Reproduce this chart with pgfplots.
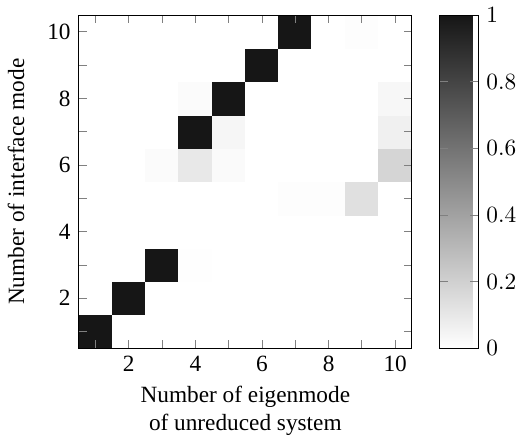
\documentclass[border=0pt]{standalone}
\usepackage[no-math]{fontspec}
\setmainfont{Liberation Serif}
\usepackage{pgfplots}
\usepackage{pgfplotstable}
\pgfplotsset{compat=1.18}

% MAC-style correlation between interface modes and eigenmodes
\pgfplotstableread{
x y c
1 1 1
2 1 0
3 1 0
4 1 0
5 1 0
6 1 0
7 1 0
8 1 0
9 1 0
10 1 0
1 2 0
2 2 1
3 2 0
4 2 0
5 2 0
6 2 0
7 2 0
8 2 0
9 2 0
10 2 0
1 3 0
2 3 0
3 3 1
4 3 0.006
5 3 0
6 3 0
7 3 0
8 3 0
9 3 0
10 3 0
1 4 0
2 4 0
3 4 0
4 4 0
5 4 0
6 4 0
7 4 0
8 4 0
9 4 0
10 4 0
1 5 0
2 5 0
3 5 0
4 5 0
5 5 0
6 5 0
7 5 0.008
8 5 0.008
9 5 0.13
10 5 0
1 6 0
2 6 0
3 6 0.015
4 6 0.10
5 6 0.02
6 6 0
7 6 0
8 6 0
9 6 0
10 6 0.18
1 7 0
2 7 0
3 7 0
4 7 1
5 7 0.04
6 7 0
7 7 0
8 7 0
9 7 0
10 7 0.065
1 8 0
2 8 0
3 8 0
4 8 0.015
5 8 1
6 8 0
7 8 0
8 8 0
9 8 0
10 8 0.035
1 9 0
2 9 0
3 9 0
4 9 0
5 9 0
6 9 1
7 9 0
8 9 0
9 9 0
10 9 0
1 10 0
2 10 0
3 10 0
4 10 0
5 10 0
6 10 0
7 10 1
8 10 0
9 10 0.01
10 10 0
}\macdata

\begin{document}
\begin{tikzpicture}
\begin{axis}[
  scale only axis,
  width=143pt, height=143pt,
  axis on top,
  xmin=0.5, xmax=10.5, ymin=0.5, ymax=10.5,
  enlargelimits=false,
  xtick={1,...,10}, ytick={1,...,10},
  xticklabels={{},2,{},4,{},6,{},8,{},10},
  yticklabels={{},2,{},4,{},6,{},8,{},10},
  tick align=inside,
  major tick style={gray, thin},
  major tick length=3.5pt,
  xlabel={Number of eigenmode\\of unreduced system},
  xlabel style={align=center, yshift=1pt},
  ylabel={Number of interface mode},
  ylabel style={yshift=3pt},
  colormap={mygray}{rgb255=(255,255,255) rgb255=(22,22,22)},
  point meta min=0, point meta max=1,
  colorbar,
  colorbar style={
    at={(parent axis.north east)}, anchor=north west, xshift=3.5pt,
    width=16.5pt,
    ytick={0,0.2,...,1},
    yticklabel style={/pgf/number format/fixed},
    major tick style={gray, thin},
    major tick length=3.5pt,
  },
]
\addplot[matrix plot*, mesh/cols=10, point meta=explicit]
  table[x=x, y=y, meta=c] {\macdata};
\end{axis}
\end{tikzpicture}
\end{document}
